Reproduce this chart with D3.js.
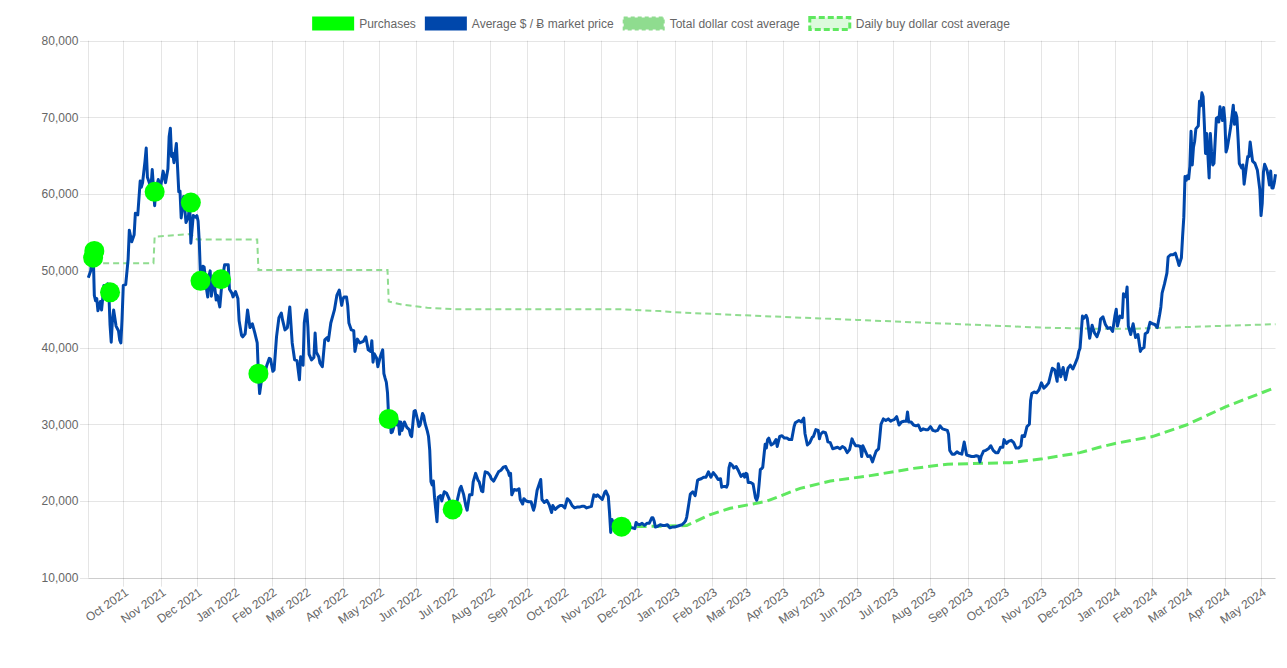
<!DOCTYPE html>
<html><head><meta charset="utf-8">
<script src="https://cdn.jsdelivr.net/npm/d3@7"></script>
<style>
body{margin:0;background:#fff;}
svg{display:block;font-family:"Liberation Sans",Arial,Helvetica,sans-serif;}
</style>
</head><body>
<svg id="c" width="1287" height="668"></svg>
<script>
// ---------------- DATA ----------------
const legendLabels = ["Purchases", "Average $ / \u0243 market price", "Total dollar cost average", "Daily buy dollar cost average"];
const yTickValues = [10000, 20000, 30000, 40000, 50000, 60000, 70000, 80000];
const xDomain = ["2021-09-02", "2024-05-13"];

const purchaseDates = ["2021-09-06","2021-09-07","2021-09-20","2021-10-27","2021-11-26","2021-12-04","2021-12-21","2022-01-21","2022-05-09","2022-07-01","2022-11-18"];
const purchaseValues = [51700, 52600, 47200, 60300, 58900, 48700, 48900, 36600, 30700, 18900, 16650];

const totalDcaDates = ["2021-09-06","2021-10-26","2021-10-27","2021-11-26","2021-12-01","2022-01-20","2022-01-21","2022-05-08","2022-05-09","2022-05-20","2022-06-10","2022-07-01","2022-11-18","2022-12-20","2023-01-01","2023-03-01","2023-06-01","2023-09-01","2023-11-01","2023-12-15","2024-01-15","2024-02-15","2024-03-15","2024-05-13"];
const totalDcaValues = [51000, 51000, 54450, 54800, 54100, 54100, 50100, 50100, 46000, 45600, 45200, 45000, 45000, 44750, 44600, 44200, 43600, 43000, 42600, 42450, 42450, 42600, 42750, 43050];

const dailyDcaDates = ["2022-11-18","2022-12-15","2023-01-11","2023-01-30","2023-02-16","2023-03-13","2023-03-18","2023-04-15","2023-05-10","2023-06-10","2023-07-18","2023-08-15","2023-10-06","2023-11-02","2023-12-03","2023-12-19","2024-01-01","2024-02-01","2024-02-29","2024-04-02","2024-05-13"];
const dailyDcaValues = [16650, 16700, 16800, 18200, 19050, 19800, 19950, 21650, 22600, 23250, 24250, 24800, 25000, 25500, 26300, 27000, 27500, 28400, 29900, 32300, 34800];

const priceHistory = [
["2021-09-02",49100],["2021-09-04",50000],["2021-09-05",51800],["2021-09-06",52700],["2021-09-07",46800],["2021-09-08",46100],["2021-09-09",46400],["2021-09-10",44800],["2021-09-12",46000],["2021-09-13",44900],["2021-09-15",48100],["2021-09-16",47800],["2021-09-18",48300],["2021-09-19",47300],["2021-09-20",43000],["2021-09-21",40700],["2021-09-22",43600],["2021-09-23",44900],["2021-09-25",42800],["2021-09-27",42200],["2021-09-28",41000],["2021-09-29",40600],["2021-09-30",43800],
["2021-10-01",48100],["2021-10-03",48200],["2021-10-05",51500],["2021-10-06",55300],["2021-10-08",53800],["2021-10-10",54700],["2021-10-11",57500],["2021-10-13",57300],["2021-10-15",61700],["2021-10-16",60900],["2021-10-17",61500],["2021-10-19",64300],["2021-10-20",66000],["2021-10-21",62200],["2021-10-23",61300],["2021-10-24",61000],["2021-10-25",63200],["2021-10-26",60900],["2021-10-27",58500],["2021-10-28",60600],["2021-10-30",61900],["2021-10-31",61300],
["2021-11-01",61000],["2021-11-03",63000],["2021-11-05",61500],["2021-11-07",63300],["2021-11-08",67500],["2021-11-09",68600],["2021-11-10",64900],["2021-11-11",65300],["2021-11-12",64100],["2021-11-14",66600],["2021-11-16",60300],["2021-11-17",60400],["2021-11-18",56900],["2021-11-20",59700],["2021-11-22",56300],["2021-11-24",57100],["2021-11-25",58900],["2021-11-26",53600],["2021-11-28",57200],["2021-11-30",57000],
["2021-12-01",57200],["2021-12-02",56500],["2021-12-03",53700],["2021-12-04",49200],["2021-12-06",50600],["2021-12-07",50500],["2021-12-09",47600],["2021-12-10",46600],["2021-12-11",49300],["2021-12-12",50000],["2021-12-13",46700],["2021-12-15",48900],["2021-12-17",46200],["2021-12-18",46800],["2021-12-20",45300],["2021-12-22",48900],["2021-12-24",50800],["2021-12-27",50800],["2021-12-28",47600],["2021-12-30",47100],["2021-12-31",46600],
["2022-01-02",47300],["2022-01-04",46400],["2022-01-05",43500],["2022-01-07",41600],["2022-01-08",41400],["2022-01-10",41800],["2022-01-12",44900],["2022-01-14",42600],["2022-01-16",43100],["2022-01-18",41900],["2022-01-20",40600],["2022-01-21",36500],["2022-01-22",34000],["2022-01-24",36300],["2022-01-25",36700],["2022-01-27",37100],["2022-01-28",37700],["2022-01-30",38600],["2022-01-31",38500],
["2022-02-02",36900],["2022-02-03",37100],["2022-02-05",41400],["2022-02-07",43900],["2022-02-09",44500],["2022-02-10",43600],["2022-02-12",42300],["2022-02-14",42600],["2022-02-16",45300],["2022-02-18",40600],["2022-02-20",38400],["2022-02-22",38300],["2022-02-24",35800],["2022-02-25",38800],["2022-02-27",37700],["2022-02-28",43200],
["2022-03-01",44400],["2022-03-02",44900],["2022-03-03",42700],["2022-03-04",39100],["2022-03-06",38400],["2022-03-08",38700],["2022-03-09",41900],["2022-03-10",39400],["2022-03-12",38800],["2022-03-13",38000],["2022-03-15",37500],["2022-03-17",41000],["2022-03-19",41300],["2022-03-20",40900],["2022-03-22",43200],["2022-03-25",44900],["2022-03-27",46800],["2022-03-29",47500],["2022-03-31",45500],
["2022-04-01",46300],["2022-04-02",46600],["2022-04-04",46600],["2022-04-05",45500],["2022-04-06",43200],["2022-04-08",42300],["2022-04-10",42200],["2022-04-11",39500],["2022-04-13",41100],["2022-04-15",40600],["2022-04-18",40800],["2022-04-20",41400],["2022-04-22",39700],["2022-04-24",39500],["2022-04-25",40900],["2022-04-26",38100],["2022-04-27",39200],["2022-04-29",38600],["2022-04-30",37500],
["2022-05-02",38800],["2022-05-04",39700],["2022-05-05",36600],["2022-05-06",36000],["2022-05-07",35500],["2022-05-08",34100],["2022-05-09",30700],["2022-05-10",31000],["2022-05-11",28900],["2022-05-12",29000],["2022-05-14",30100],["2022-05-15",31300],["2022-05-16",29900],["2022-05-17",30400],["2022-05-18",28700],["2022-05-19",30300],["2022-05-20",29200],["2022-05-22",30300],["2022-05-24",29600],["2022-05-26",29300],["2022-05-27",28600],["2022-05-28",28400],["2022-05-30",31700],["2022-05-31",31800],
["2022-06-02",30500],["2022-06-03",29700],["2022-06-04",29900],["2022-06-06",31400],["2022-06-07",31100],["2022-06-08",30200],["2022-06-10",29100],["2022-06-11",28400],["2022-06-12",26600],["2022-06-13",22500],["2022-06-14",22100],["2022-06-15",22600],["2022-06-16",20400],["2022-06-18",17300],["2022-06-19",20500],["2022-06-21",20700],["2022-06-22",20000],["2022-06-24",21200],["2022-06-26",21000],["2022-06-28",20300],["2022-06-30",19000],
["2022-07-01",19300],["2022-07-03",19300],["2022-07-05",20200],["2022-07-07",21600],["2022-07-08",21900],["2022-07-10",20900],["2022-07-12",19300],["2022-07-13",18800],["2022-07-15",20800],["2022-07-17",20800],["2022-07-18",22500],["2022-07-20",23600],["2022-07-22",22700],["2022-07-23",22500],["2022-07-25",21300],["2022-07-26",21200],["2022-07-27",22900],["2022-07-28",23800],["2022-07-30",23700],
["2022-08-01",23300],["2022-08-02",22900],["2022-08-04",22600],["2022-08-06",23200],["2022-08-08",23800],["2022-08-10",24000],["2022-08-12",24400],["2022-08-14",24500],["2022-08-15",24100],["2022-08-16",23900],["2022-08-17",23300],["2022-08-18",23600],["2022-08-19",20800],["2022-08-21",21500],["2022-08-23",21400],["2022-08-25",21600],["2022-08-26",20200],["2022-08-28",19600],["2022-08-29",20300],["2022-08-31",20000],
["2022-09-02",19900],["2022-09-04",19900],["2022-09-06",18800],["2022-09-07",19300],["2022-09-09",21400],["2022-09-12",22800],["2022-09-13",20200],["2022-09-15",19800],["2022-09-17",20100],["2022-09-19",19500],["2022-09-21",18500],["2022-09-22",19400],["2022-09-24",18900],["2022-09-26",19200],["2022-09-28",19400],["2022-09-30",19400],
["2022-10-02",19100],["2022-10-04",20300],["2022-10-06",20000],["2022-10-08",19400],["2022-10-10",19100],["2022-10-12",19200],["2022-10-14",19200],["2022-10-16",19300],["2022-10-18",19300],["2022-10-20",19100],["2022-10-22",19200],["2022-10-24",19300],["2022-10-25",20100],["2022-10-26",20800],["2022-10-28",20600],["2022-10-29",20800],["2022-10-31",20500],
["2022-11-02",20200],["2022-11-04",21100],["2022-11-05",21300],["2022-11-07",20600],["2022-11-08",18500],["2022-11-09",15900],["2022-11-10",17600],["2022-11-12",16800],["2022-11-13",16300],["2022-11-15",16900],["2022-11-17",16700],["2022-11-18",16700],["2022-11-20",16300],["2022-11-21",15800],["2022-11-23",16600],["2022-11-25",16500],["2022-11-27",16500],["2022-11-29",16400],["2022-11-30",17200],
["2022-12-01",17000],["2022-12-03",16900],["2022-12-05",17100],["2022-12-07",16800],["2022-12-09",17100],["2022-12-11",17100],["2022-12-13",17800],["2022-12-14",17800],["2022-12-15",17400],["2022-12-16",16600],["2022-12-18",16700],["2022-12-20",16900],["2022-12-22",16800],["2022-12-24",16800],["2022-12-26",16900],["2022-12-28",16500],["2022-12-30",16600],
["2023-01-01",16600],["2023-01-03",16700],["2023-01-05",16800],["2023-01-07",16900],["2023-01-09",17200],["2023-01-10",17400],["2023-01-11",17900],["2023-01-12",18900],["2023-01-13",19900],["2023-01-14",20900],["2023-01-16",21200],["2023-01-18",20700],["2023-01-20",22700],["2023-01-21",22800],["2023-01-23",22900],["2023-01-25",23100],["2023-01-27",23100],["2023-01-29",23800],["2023-01-31",23100],
["2023-02-02",23700],["2023-02-04",23300],["2023-02-06",22800],["2023-02-08",22900],["2023-02-09",21800],["2023-02-11",21900],["2023-02-13",21800],["2023-02-14",22200],["2023-02-15",24300],["2023-02-16",24900],["2023-02-18",24600],["2023-02-19",24300],["2023-02-21",24500],["2023-02-23",23900],["2023-02-25",23200],["2023-02-27",23500],["2023-02-28",23100],
["2023-03-01",23600],["2023-03-02",23500],["2023-03-03",22400],["2023-03-05",22400],["2023-03-07",22200],["2023-03-09",20400],["2023-03-10",20100],["2023-03-11",20600],["2023-03-12",22200],["2023-03-13",24100],["2023-03-14",24200],["2023-03-15",24400],["2023-03-17",27400],["2023-03-18",26900],["2023-03-19",28000],["2023-03-20",28200],["2023-03-22",27300],["2023-03-24",27500],["2023-03-26",28000],["2023-03-27",27100],["2023-03-29",28400],["2023-03-31",28500],
["2023-04-02",28200],["2023-04-04",28200],["2023-04-06",28000],["2023-04-08",28000],["2023-04-10",29700],["2023-04-11",30200],["2023-04-13",30400],["2023-04-14",30500],["2023-04-16",30300],["2023-04-18",30800],["2023-04-19",28800],["2023-04-21",27300],["2023-04-23",27600],["2023-04-25",28300],["2023-04-26",28400],["2023-04-28",29300],["2023-04-30",29200],
["2023-05-01",28100],["2023-05-02",28700],["2023-05-04",29000],["2023-05-06",28900],["2023-05-07",28400],["2023-05-08",27700],["2023-05-10",27600],["2023-05-12",26800],["2023-05-14",26900],["2023-05-16",27000],["2023-05-18",26800],["2023-05-20",27100],["2023-05-22",26900],["2023-05-24",26300],["2023-05-26",26700],["2023-05-28",28100],["2023-05-29",27700],["2023-05-31",27200],
["2023-06-02",27200],["2023-06-04",27100],["2023-06-05",25800],["2023-06-06",27200],["2023-06-08",26500],["2023-06-10",25800],["2023-06-12",25900],["2023-06-14",25100],["2023-06-15",25600],["2023-06-17",26500],["2023-06-19",26800],["2023-06-20",28300],["2023-06-21",30000],["2023-06-23",30700],["2023-06-25",30500],["2023-06-27",30700],["2023-06-29",30400],["2023-06-30",30500],
["2023-07-02",30600],["2023-07-04",31000],["2023-07-06",29900],["2023-07-08",30300],["2023-07-10",30400],["2023-07-12",30400],["2023-07-13",31600],["2023-07-14",30300],["2023-07-16",30300],["2023-07-18",29900],["2023-07-20",29800],["2023-07-22",29900],["2023-07-24",29200],["2023-07-26",29400],["2023-07-28",29300],["2023-07-30",29300],
["2023-08-01",29700],["2023-08-03",29200],["2023-08-05",29100],["2023-08-07",29200],["2023-08-09",29800],["2023-08-11",29400],["2023-08-13",29300],["2023-08-15",29200],["2023-08-16",28700],["2023-08-17",26600],["2023-08-19",26100],["2023-08-21",26100],["2023-08-23",26400],["2023-08-25",26200],["2023-08-27",26100],["2023-08-29",27700],["2023-08-31",26000],
["2023-09-02",25900],["2023-09-04",25800],["2023-09-06",25800],["2023-09-08",25900],["2023-09-10",25800],["2023-09-11",25100],["2023-09-12",25800],["2023-09-14",26500],["2023-09-16",26600],["2023-09-18",26800],["2023-09-20",27200],["2023-09-22",26600],["2023-09-24",26300],["2023-09-26",26300],["2023-09-28",27000],["2023-09-30",27000],
["2023-10-01",28000],["2023-10-03",27500],["2023-10-05",27800],["2023-10-07",27900],["2023-10-09",27600],["2023-10-11",26900],["2023-10-13",26900],["2023-10-15",27200],["2023-10-16",28500],["2023-10-18",28400],["2023-10-20",29700],["2023-10-22",30000],["2023-10-23",33100],["2023-10-24",34000],["2023-10-26",34200],["2023-10-28",34100],["2023-10-30",34500],
["2023-11-01",35400],["2023-11-03",34700],["2023-11-05",35000],["2023-11-07",35400],["2023-11-09",36700],["2023-11-10",37300],["2023-11-12",37100],["2023-11-14",35600],["2023-11-15",37900],["2023-11-17",36200],["2023-11-19",37400],["2023-11-21",35800],["2023-11-23",37300],["2023-11-25",37700],["2023-11-27",37200],["2023-11-29",37900],
["2023-12-01",38700],["2023-12-02",39500],["2023-12-03",39900],["2023-12-04",42000],["2023-12-05",44100],["2023-12-06",43800],["2023-12-08",44200],["2023-12-09",43800],["2023-12-11",41200],["2023-12-13",42900],["2023-12-15",41900],["2023-12-17",41400],["2023-12-19",42300],["2023-12-20",43700],["2023-12-22",44000],["2023-12-24",43000],["2023-12-26",42500],["2023-12-28",42600],["2023-12-30",42100],
["2024-01-01",44200],["2024-01-02",45000],["2024-01-03",42800],["2024-01-05",44100],["2024-01-07",43900],["2024-01-08",47000],["2024-01-10",46600],["2024-01-11",47900],["2024-01-12",42800],["2024-01-14",41700],["2024-01-16",43100],["2024-01-18",41300],["2024-01-20",41700],["2024-01-22",39500],["2024-01-23",39800],["2024-01-25",40000],["2024-01-26",41800],["2024-01-28",42000],["2024-01-30",43300],
["2024-02-01",43100],["2024-02-03",43000],["2024-02-05",42600],["2024-02-07",44300],["2024-02-08",45300],["2024-02-09",47100],["2024-02-11",48300],["2024-02-13",49700],["2024-02-14",51800],["2024-02-16",52100],["2024-02-18",52100],["2024-02-20",52300],["2024-02-22",51300],["2024-02-23",50700],["2024-02-25",51700],["2024-02-26",54500],["2024-02-27",57000],["2024-02-28",62300],["2024-02-29",61800],
["2024-03-01",62400],["2024-03-02",62000],["2024-03-03",63600],["2024-03-04",68200],["2024-03-05",63800],["2024-03-06",66100],["2024-03-07",66900],["2024-03-08",68500],["2024-03-10",68900],["2024-03-11",72100],["2024-03-12",71500],["2024-03-13",73200],["2024-03-14",72700],["2024-03-15",69200],["2024-03-16",65300],["2024-03-17",67900],["2024-03-19",62100],["2024-03-20",67900],["2024-03-21",65500],["2024-03-22",63800],["2024-03-23",64000],["2024-03-25",69900],["2024-03-26",70000],["2024-03-27",69400],["2024-03-28",71400],["2024-03-30",69600],["2024-03-31",71300],
["2024-04-01",69700],["2024-04-02",65500],["2024-04-03",66000],["2024-04-05",67900],["2024-04-06",68900],["2024-04-08",71600],["2024-04-09",69100],["2024-04-10",70600],["2024-04-11",70000],["2024-04-12",67200],["2024-04-13",64000],["2024-04-15",63400],["2024-04-16",63800],["2024-04-17",61300],["2024-04-19",63800],["2024-04-20",64900],["2024-04-21",64900],["2024-04-22",66800],["2024-04-24",64300],["2024-04-26",64000],["2024-04-28",63100],["2024-04-30",60600],
["2024-05-01",57200],["2024-05-02",58800],["2024-05-03",62900],["2024-05-04",63900],["2024-05-06",63100],["2024-05-07",62300],["2024-05-08",61200],["2024-05-09",63000],["2024-05-10",60800],["2024-05-11",60800],["2024-05-12",61500],["2024-05-13",62600]
];

// ---------------- CHART ----------------
const parse = d3.timeParse("%Y-%m-%d");
const svg = d3.select("#c");
const plot = {left: 88.3, right: 1275.5, top: 40.7, bottom: 577.7};

const x = d3.scaleTime().domain(xDomain.map(parse)).range([plot.left, plot.right]);
const y = d3.scaleLinear().domain([10000, 80000]).range([plot.bottom, plot.top]);
const px = v => Math.round(v) + 0.5;

const gridColor = "rgba(0,0,0,0.1)";
const textColor = "#666";

// horizontal grid + y labels
const yAxis = d3.axisLeft(y).tickValues(yTickValues).tickFormat(d3.format(",")).tickSize(0).tickPadding(0);
svg.append("g").selectAll("line").data(yTickValues).join("line")
  .attr("x1", 80).attr("x2", plot.right)
  .attr("y1", d => px(y(d))).attr("y2", d => px(y(d)))
  .attr("stroke", gridColor).attr("stroke-width", 1);
const yg = svg.append("g").attr("transform", `translate(${plot.left - 10},0)`).call(yAxis);
yg.select(".domain").remove();
yg.selectAll("text").attr("fill", textColor).attr("font-size", 12).attr("font-family", "Liberation Sans, Arial, sans-serif");

// vertical grid + x labels
const monthTicks = d3.timeMonth.range(d3.timeMonth.ceil(x.domain()[0]), x.domain()[1]);
svg.append("g").selectAll("line").data(monthTicks).join("line")
  .attr("x1", d => px(x(d))).attr("x2", d => px(x(d)))
  .attr("y1", plot.top).attr("y2", plot.bottom + 9)
  .attr("stroke", gridColor).attr("stroke-width", 1);
const xAxis = d3.axisBottom(x).tickValues(monthTicks).tickFormat(d3.timeFormat("%b %Y")).tickSize(0);
const xg = svg.append("g").attr("transform", `translate(0,${plot.bottom})`).call(xAxis);
xg.select(".domain").remove();
xg.selectAll(".tick text")
  .attr("fill", textColor).attr("font-size", 12).attr("font-family", "Liberation Sans, Arial, sans-serif")
  .attr("text-anchor", "end").attr("dy", "0.35em").attr("y", 0)
  .attr("transform", "translate(3,13) rotate(-35)");

// borders
svg.append("line").attr("x1", px(plot.left)).attr("x2", px(plot.left)).attr("y1", plot.top).attr("y2", plot.bottom)
  .attr("stroke", gridColor);
svg.append("line").attr("x1", px(plot.left)).attr("x2", plot.right).attr("y1", px(plot.bottom)).attr("y2", px(plot.bottom))
  .attr("stroke", gridColor);

// series
const colors = {purchase: "#00ff00", price: "#0047ab", total: "#8fdc8f", daily: "#5fe85f"};
const line = d3.line().x(d => x(d[0])).y(d => y(d[1])).curve(d3.curveLinear);

const totalData = totalDcaDates.map((d, i) => [parse(d), totalDcaValues[i]]);
const dailyData = dailyDcaDates.map((d, i) => [parse(d), dailyDcaValues[i]]);
const priceData = priceHistory.map(d => [parse(d[0]), d[1]]);
const purchaseData = purchaseDates.map((d, i) => [parse(d), purchaseValues[i]]);

svg.append("path").datum(totalData).attr("d", line).attr("fill", "none")
  .attr("stroke", colors.total).attr("stroke-width", 2).attr("stroke-dasharray", "6,4");
svg.append("path").datum(dailyData).attr("d", line).attr("fill", "none")
  .attr("stroke", colors.daily).attr("stroke-width", 3).attr("stroke-dasharray", "10,5");
svg.append("path").datum(priceData).attr("d", line).attr("fill", "none")
  .attr("stroke", colors.price).attr("stroke-width", 3).attr("stroke-linejoin", "round");
svg.append("g").selectAll("circle").data(purchaseData).join("circle")
  .attr("cx", d => x(d[0])).attr("cy", d => y(d[1])).attr("r", 10)
  .attr("fill", colors.purchase);

// legend
const legendStyles = [
  {fill: colors.purchase, stroke: colors.purchase, width: 2, dash: null},
  {fill: colors.price, stroke: colors.price, width: 2, dash: null},
  {fill: colors.total, stroke: colors.total, width: 2, dash: "4,3"},
  {fill: "#dcfadc", stroke: colors.daily, width: 3, dash: "6,3"}
];
const lg = svg.append("g");
const items = legendLabels.map((t, i) => {
  const g = lg.append("g");
  const txt = g.append("text").text(t).attr("x", 46).attr("y", 23.5)
    .attr("dy", "0.35em").attr("fill", textColor).attr("font-size", 12);
  const w = txt.node().getComputedTextLength();
  const s = legendStyles[i];
  g.insert("rect", "text").attr("x", 0).attr("y", 17.5).attr("width", 40).attr("height", 12)
    .attr("fill", s.fill).attr("stroke", s.stroke).attr("stroke-width", s.width)
    .attr("stroke-dasharray", s.dash);
  return {g, w: 46 + w};
});
const totalW = d3.sum(items, d => d.w) + 10 * (items.length - 1);
let cx = 661.5 - totalW / 2;
items.forEach(it => { it.g.attr("transform", `translate(${cx},0)`); cx += it.w + 10; });
</script>
</body></html>
